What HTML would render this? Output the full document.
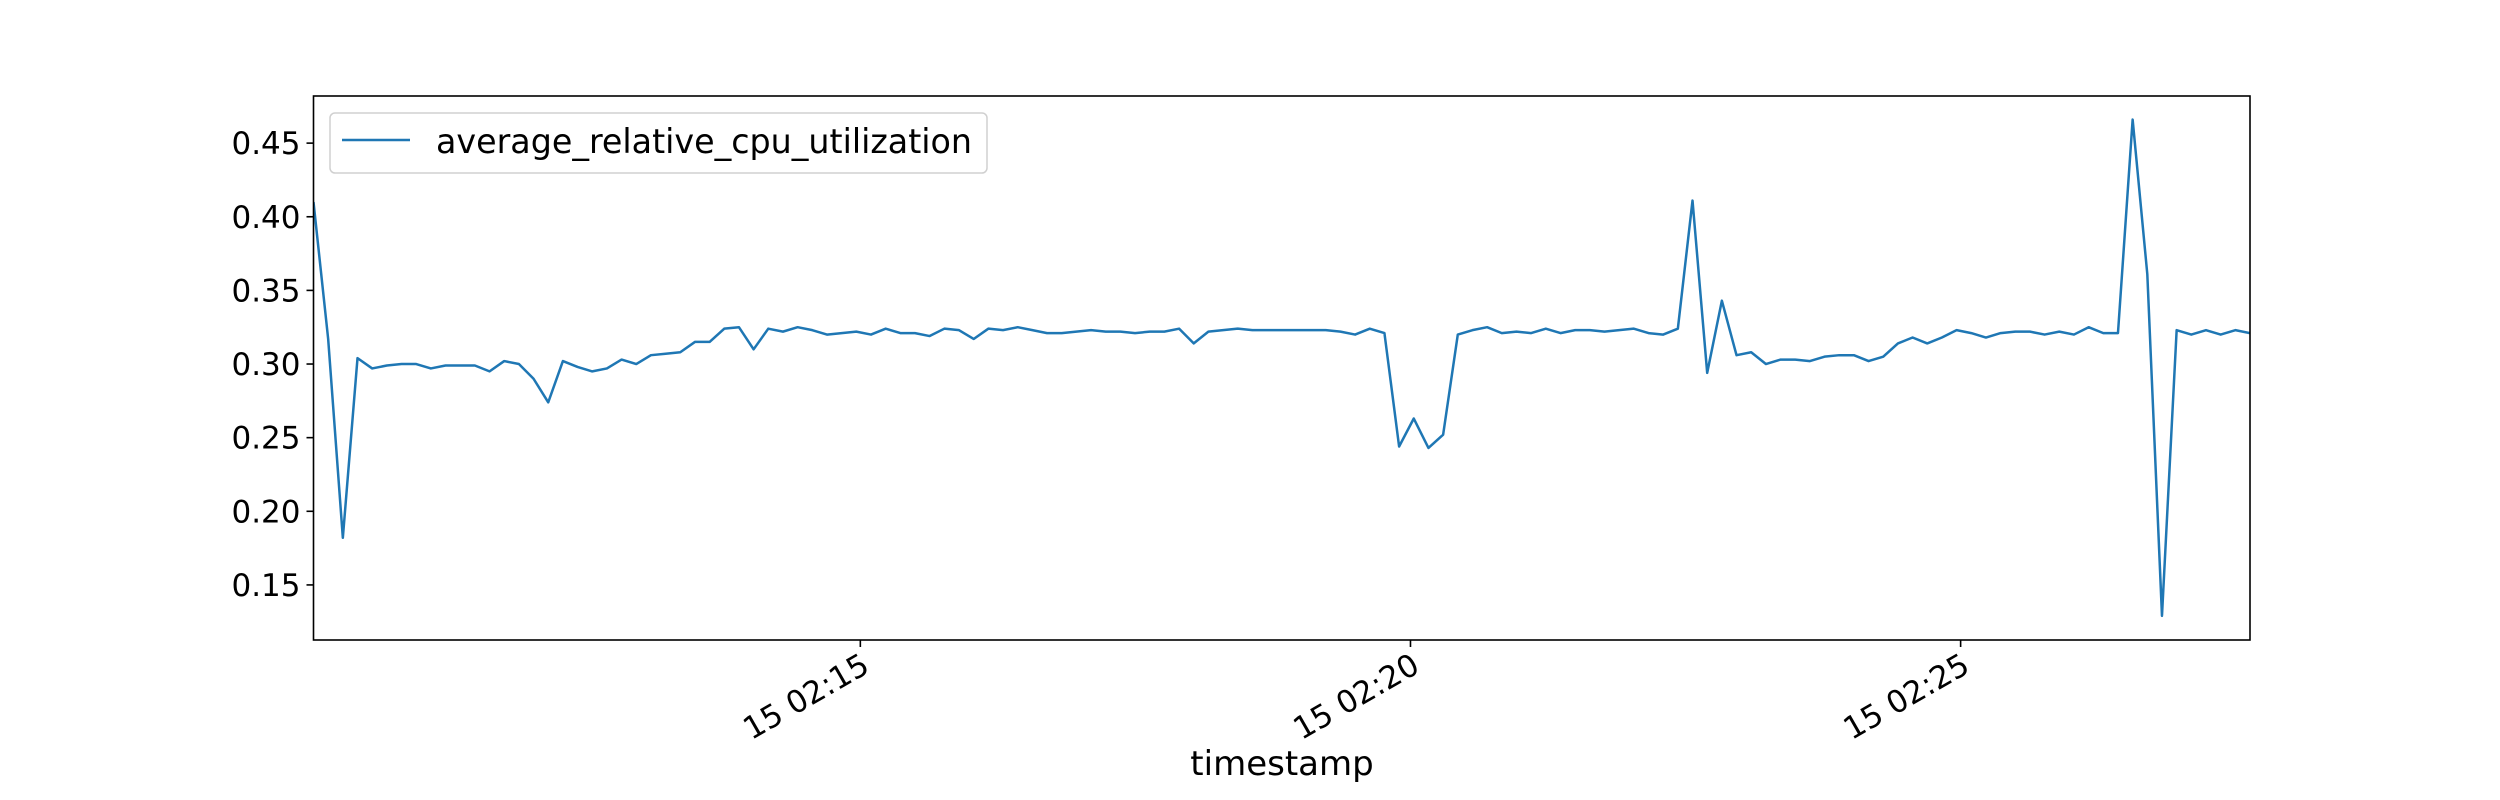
<!DOCTYPE html>
<html><head><meta charset="utf-8"><style>
html,body{margin:0;padding:0;background:#fff;}
svg{display:block;font-family:"DejaVu Sans","Liberation Sans",sans-serif;}
</style></head><body>
<svg id="chart" width="2500" height="800" viewBox="0 0 2500 800" xmlns="http://www.w3.org/2000/svg">
<rect width="2500" height="800" fill="#fff"/>
<g id="plot"></g>
</svg>
<script>
const seriesValues = [0.410,0.317,0.182,0.304,0.297,0.299,0.300,0.300,0.297,0.299,0.299,0.299,0.295,0.302,0.300,0.290,0.274,0.302,0.298,0.295,0.297,0.303,0.300,0.306,0.307,0.308,0.315,0.315,0.324,0.325,0.310,0.324,0.322,0.325,0.323,0.320,0.321,0.322,0.320,0.324,0.321,0.321,0.319,0.324,0.323,0.317,0.324,
0.323,0.325,0.323,0.321,0.321,0.322,0.323,0.322,0.322,0.321,0.322,0.322,0.324,0.314,0.322,0.323,0.324,0.323,0.323,0.323,0.323,0.323,0.323,0.322,0.320,0.324,0.321,0.244,0.263,0.243,0.252,0.320,0.323,0.325,0.321,0.322,0.321,0.324,0.321,0.323,0.323,0.322,0.323,0.324,
0.321,0.320,0.324,0.411,0.294,0.343,0.306,0.308,0.300,0.303,0.303,0.302,0.305,0.306,0.306,0.302,0.305,0.314,0.318,0.314,0.318,0.323,0.321,0.318,0.321,0.322,0.322,0.320,0.322,0.320,0.325,0.321,0.321,0.466,0.361,0.129,0.323,0.320,0.323,0.320,0.323,0.321];
const startSeconds = 1.8;   // seconds after 02:10:00 of first sample
const stepSeconds = 8;      // sampling interval
const yTicks = [0.15,0.20,0.25,0.30,0.35,0.40,0.45];
const yTickLabels = ["0.15","0.20","0.25","0.30","0.35","0.40","0.45"];
const xTicks = [300,600,900];
const xTickLabels = ["15 02:15","15 02:20","15 02:25"];
const seriesName = "average_relative_cpu_utilization";

const NS="http://www.w3.org/2000/svg";
const L=313.5,R=2250,T=96,B=640;
const tMin=startSeconds, tMax=startSeconds+stepSeconds*(seriesValues.length-1);
const yMin=0.1126, yMax=0.482;
const xs=t=>L+(t-tMin)/(tMax-tMin)*(R-L);
const ys=v=>B-(v-yMin)/(yMax-yMin)*(B-T);
const g=document.getElementById('plot');
function mk(tag,attrs,parent){const e=document.createElementNS(NS,tag);for(const k in attrs)e.setAttribute(k,attrs[k]);(parent||g).appendChild(e);return e;}

let d='';
seriesValues.forEach((v,i)=>{const t=startSeconds+i*stepSeconds;d+=(i?'L':'M')+xs(t).toFixed(2)+','+ys(v).toFixed(2);});
const clip=mk('clipPath',{id:'clip'});mk('rect',{x:L,y:T,width:R-L,height:B-T},clip);
const line=mk('path',{d:d,fill:'none',stroke:'#1f77b4','stroke-width':2.5,'stroke-linejoin':'round','clip-path':'url(#clip)'});



const frame=mk('rect',{x:L,y:T,width:R-L,height:B-T,fill:'none',stroke:'#000','stroke-width':1.6});



yTicks.forEach((v,i)=>{
  const y=ys(v);
  const tk=mk('line',{x1:L-7,x2:L,y1:y,y2:y,stroke:'#000','stroke-width':1.6});
  
  
  const tx=mk('text',{x:L-13,y:y+11,'text-anchor':'end','font-size':31,fill:'#000'});
  tx.textContent=yTickLabels[i];
  
  
});
xTicks.forEach((t,i)=>{
  const x=xs(t);
  const tk=mk('line',{x1:x,x2:x,y1:B,y2:B+7,stroke:'#000','stroke-width':1.6});
  
  
  const px=x+11, py=671;
  const tx=mk('text',{x:px,y:py,'text-anchor':'end','font-size':31,fill:'#000',transform:`rotate(-30 ${px} ${py})`});
  tx.textContent=xTickLabels[i];
  
  
});
const xt=mk('text',{x:1282,y:775,'text-anchor':'middle','font-size':34,fill:'#000'});
xt.textContent='timestamp';



const lg=mk('g',{});


mk('rect',{x:330,y:113,width:657,height:60,rx:5,fill:'#fff','fill-opacity':0.8,stroke:'#d0d0d0','stroke-width':1.5},lg);
const ll=mk('line',{x1:342,x2:410,y1:140,y2:140,stroke:'#1f77b4','stroke-width':2.5},lg);


const lt=mk('text',{x:436,y:153,'font-size':34,fill:'#000',textLength:536,lengthAdjust:'spacingAndGlyphs'},lg);
lt.textContent=seriesName;


</script>
</body></html>
